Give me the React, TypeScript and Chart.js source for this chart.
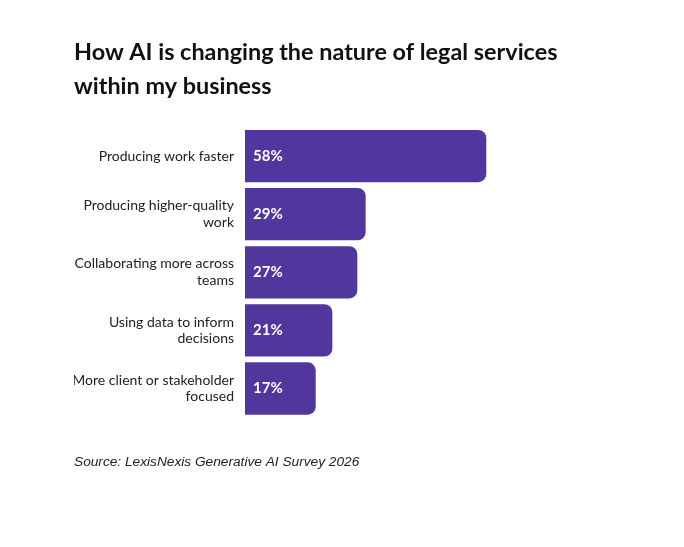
import React, { useEffect, useRef } from "react";
import { Chart, registerables } from "chart.js";

Chart.register(...registerables);

const categories: (string | string[])[] = [
  "Producing work faster",
  ["Producing higher-quality", "work"],
  ["Collaborating more across", "teams"],
  ["Using data to inform", "decisions"],
  ["More client or stakeholder", "focused"],
];
const values = [58, 29, 27, 21, 17];
const titleLines = ["How AI is changing the nature of legal services", "within my business"];
const sourceText = "Source: LexisNexis Generative AI Survey 2026";

const BAR_COLOR = "#51379d";

const valueLabels = {
  id: "valueLabels",
  afterDatasetsDraw(chart: any) {
    const ctx = chart.ctx;
    const meta = chart.getDatasetMeta(0);
    ctx.save();
    ctx.fillStyle = "#ffffff";
    ctx.font = "bold 15px Lato";
    ctx.textAlign = "left";
    ctx.textBaseline = "middle";
    meta.data.forEach((el: any, i: number) => {
      ctx.fillText(values[i] + "%", el.base + 8, el.y);
    });
    ctx.restore();
  },
};

export default function App() {
  const ref = useRef<HTMLCanvasElement | null>(null);
  useEffect(() => {
    if (!ref.current) return;
    const chart = new Chart(ref.current, {
      type: "bar",
      data: {
        labels: categories,
        datasets: [
          {
            data: values,
            backgroundColor: BAR_COLOR,
            borderRadius: 8,
            borderSkipped: "start",
            categoryPercentage: 1,
            barPercentage: 0.9,
          },
        ],
      },
      options: {
        indexAxis: "y",
        animation: false,
        responsive: true,
        maintainAspectRatio: false,
        layout: { padding: { left: 66, right: 15, top: 0, bottom: 0 } },
        plugins: {
          legend: { display: false },
          tooltip: { enabled: false },
          title: {
            display: true,
            text: titleLines,
            align: "start",
            color: "#111111",
            font: { family: "Lato", size: 23.4, weight: "bold", lineHeight: 34 / 23.4 },
            padding: { top: 27, bottom: 24 },
          },
          subtitle: {
            display: true,
            position: "bottom",
            text: sourceText,
            align: "start",
            color: "#222222",
            font: { family: "Liberation Sans", size: 13.7, style: "italic", lineHeight: 1.2 },
            padding: { top: 36, bottom: 69 },
          },
        },
        scales: {
          x: {
            display: false,
            min: 0,
            max: 100,
          },
          y: {
            grid: { display: false, drawTicks: false },
            border: { display: false },
            ticks: {
              color: "#222222",
              font: { family: "Lato", size: 14, lineHeight: 1.2 },
              padding: 11,
            },
            afterFit(scale: any) {
              scale.width = 171;
            },
          },
        },
      },
      plugins: [valueLabels],
    });
    return () => chart.destroy();
  }, []);
  return (
    <div style={{ width: 668, height: 531, position: "relative" }}>
      <canvas ref={ref} />
    </div>
  );
}
